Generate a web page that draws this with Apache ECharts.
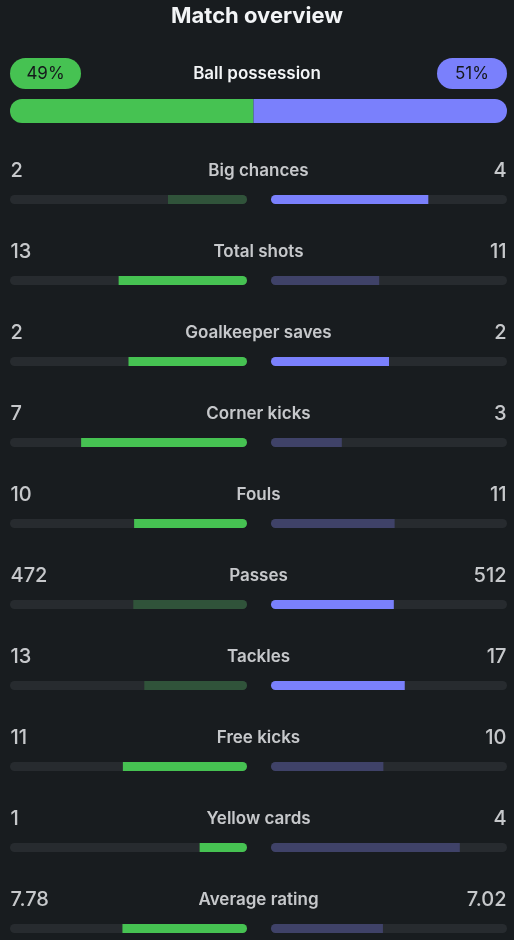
<!DOCTYPE html>
<html><head><meta charset="utf-8">
<script src="https://cdn.jsdelivr.net/npm/echarts@6/dist/echarts.min.js"></script>
<style>html,body{margin:0;padding:0;background:#181c1f;} #c{width:514px;height:940px;}</style>
</head><body><div id="c"></div>
<script>
const titleText = 'Match overview';
const possessionLabel = 'Ball possession';
const possessionHome = 49;
const possessionAway = 51;
const statNames = ['Big chances', 'Total shots', 'Goalkeeper saves', 'Corner kicks', 'Fouls', 'Passes', 'Tackles', 'Free kicks', 'Yellow cards', 'Average rating'];
const homeValues = [2, 13, 2, 7, 10, 472, 13, 11, 1, 7.78];
const awayValues = [4, 11, 2, 3, 11, 512, 17, 10, 4, 7.02];
const lowerIsBetter = [false, false, false, false, true, false, false, false, true, false];

const C = {
  bg: '#181c1f', track: '#272b2f', green: '#46c252', greenDim: '#30533a',
  blue: '#7a80fc', blueDim: '#3f4268', text: '#f2f4f6', pillText: '#15181b'
};
const FONT = 'Inter, "Noto Sans", sans-serif';

const homeFrac = homeValues.map((h, i) => h / (h + awayValues[i]));
const awayFrac = awayValues.map((a, i) => a / (homeValues[i] + a));
function homeWins(i) { const h = homeValues[i], a = awayValues[i]; return lowerIsBetter[i] ? h <= a : h >= a; }
function awayWins(i) { const h = homeValues[i], a = awayValues[i]; return lowerIsBetter[i] ? a <= h : a >= h; }

const chart = echarts.init(document.getElementById('c'), null, { renderer: 'canvas' });

const catAxis = (gi) => ({ gridIndex: gi, type: 'category', data: statNames, inverse: true, boundaryGap: false, show: false });
const hiddenTxt = 'rgba(0,0,0,0)';

const option = {
  backgroundColor: C.bg,
  animation: false,
  title: [
    { text: titleText, left: 'center', top: 5, padding: 0,
      textStyle: { color: C.text, fontSize: 22, fontWeight: 'bold', fontFamily: FONT } },
    { text: possessionLabel, left: 'center', top: 65, padding: 0,
      textStyle: { color: C.text, fontSize: 17, fontWeight: 600, fontFamily: FONT } }
  ],
  grid: [
    { left: 10, top: 99, width: 497, height: 24, outerBoundsMode: 'none' },
    { left: 10, top: 199.5, width: 237, height: 729, outerBoundsMode: 'none' },
    { left: 271, top: 199.5, width: 236, height: 729, outerBoundsMode: 'none' },
    { left: 10, top: 171, width: 497, height: 729, outerBoundsMode: 'none' }
  ],
  xAxis: [
    { gridIndex: 0, type: 'value', min: 0, max: 100, show: false },
    { gridIndex: 1, type: 'value', min: 0, max: 1, inverse: true, show: false },
    { gridIndex: 2, type: 'value', min: 0, max: 1, show: false },
    { gridIndex: 3, type: 'value', min: 0, max: 1, show: false }
  ],
  yAxis: [
    { gridIndex: 0, type: 'category', data: [possessionLabel], show: false },
    catAxis(1), catAxis(2), catAxis(3)
  ],
  series: [
    { type: 'bar', xAxisIndex: 0, yAxisIndex: 0, stack: 'p', barWidth: 24, data: [possessionHome],
      itemStyle: { color: C.green, borderRadius: [12, 0, 0, 12] },
      label: { show: true, position: [35.5, -25.5], align: 'center', verticalAlign: 'middle',
        formatter: '{c}%', color: C.pillText, fontSize: 17, fontFamily: FONT,
        backgroundColor: C.green, borderRadius: 15.5, width: 71, height: 31, lineHeight: 31 } },
    { type: 'bar', xAxisIndex: 0, yAxisIndex: 0, stack: 'p', barWidth: 24, data: [possessionAway],
      itemStyle: { color: C.blue, borderRadius: [0, 12, 12, 0] },
      label: { show: true, position: ['100%', -25.5], offset: [-35, 0], align: 'center', verticalAlign: 'middle',
        formatter: '{c}%', color: C.pillText, fontSize: 17, fontFamily: FONT,
        backgroundColor: C.blue, borderRadius: 15.5, width: 70, height: 31, lineHeight: 31 } },

    { type: 'bar', xAxisIndex: 1, yAxisIndex: 1, barWidth: 9, barGap: '-100%', clip: false, silent: true,
      data: statNames.map(() => 1), itemStyle: { color: C.track, borderRadius: 4.5 } },
    { type: 'bar', xAxisIndex: 1, yAxisIndex: 1, barWidth: 9, barGap: '-100%', clip: false, silent: true,
      data: homeFrac.map((v, i) => ({ value: v, itemStyle: { color: homeWins(i) ? C.green : C.greenDim } })),
      itemStyle: { borderRadius: [0, 4.5, 4.5, 0] } },

    { type: 'bar', xAxisIndex: 2, yAxisIndex: 2, barWidth: 9, barGap: '-100%', clip: false, silent: true,
      data: statNames.map(() => 1), itemStyle: { color: C.track, borderRadius: 4.5 } },
    { type: 'bar', xAxisIndex: 2, yAxisIndex: 2, barWidth: 9, barGap: '-100%', clip: false, silent: true,
      data: awayFrac.map((v, i) => ({ value: v, itemStyle: { color: awayWins(i) ? C.blue : C.blueDim } })),
      itemStyle: { borderRadius: [4.5, 0, 0, 4.5] } },

    { type: 'scatter', xAxisIndex: 3, yAxisIndex: 3, symbolSize: 1, silent: true,
      itemStyle: { color: hiddenTxt },
      data: statNames.map((n, i) => [0, n, homeValues[i]]),
      label: { show: true, position: 'right', distance: 0, formatter: p => String(p.value[2]),
        color: C.text, fontSize: 20, fontWeight: 500, fontFamily: FONT } },
    { type: 'scatter', xAxisIndex: 3, yAxisIndex: 3, symbolSize: 1, silent: true,
      itemStyle: { color: hiddenTxt },
      data: statNames.map((n) => [0.5, n]),
      label: { show: true, position: 'inside', formatter: p => p.value[1],
        color: C.text, fontSize: 17, fontWeight: 600, fontFamily: FONT } },
    { type: 'scatter', xAxisIndex: 3, yAxisIndex: 3, symbolSize: 1, silent: true,
      itemStyle: { color: hiddenTxt },
      data: statNames.map((n, i) => [1, n, awayValues[i]]),
      label: { show: true, position: 'left', distance: 0, formatter: p => String(p.value[2]),
        color: C.text, fontSize: 20, fontWeight: 500, fontFamily: FONT } }
  ]
};
chart.setOption(option);
</script>
</body></html>
